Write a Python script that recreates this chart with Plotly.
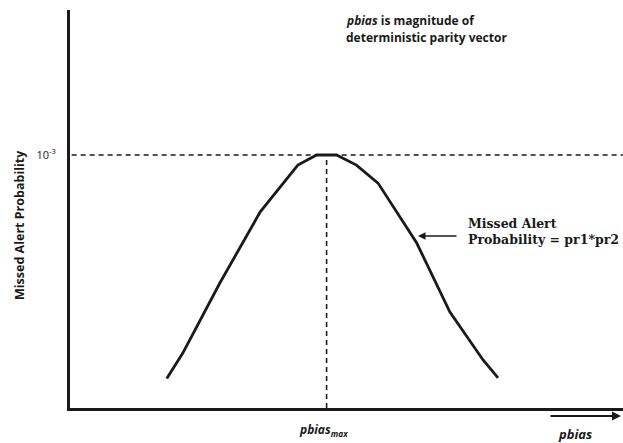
import plotly.graph_objects as go

# Missed alert probability versus pbias (arbitrary pbias units, probability in linear scale)
pbias = [1.75, 2.04, 2.71, 3.44, 4.12, 4.46, 4.82, 5.18, 5.57, 6.27, 6.87, 7.47, 7.74]
p_missed = [0.117e-3, 0.217e-3, 0.494e-3, 0.775e-3, 0.960e-3, 1.0e-3, 1.0e-3,
            0.960e-3, 0.889e-3, 0.652e-3, 0.379e-3, 0.190e-3, 0.119e-3]
pbias_max = 4.64
p_peak = 1.0e-3
y_ticks = [1.0e-3]
y_tick_text = ["10<sup>-3</sup>"]

SANS = "Open Sans"
SERIF = "DejaVu Serif"
BLACK = "#1a1a1a"

W, H = 623, 443
L, R, T, B = 70, 0, 10, 35

fig = go.Figure()

# dashed reference lines at the peak
fig.add_trace(go.Scatter(x=[0.03, 10], y=[p_peak, p_peak], mode="lines",
                         line=dict(color=BLACK, width=1.6, dash="5px,4px"),
                         hoverinfo="skip", showlegend=False))
fig.add_trace(go.Scatter(x=[pbias_max, pbias_max], y=[0, p_peak], mode="lines",
                         line=dict(color=BLACK, width=1.6, dash="5px,4px"),
                         hoverinfo="skip", showlegend=False))

# main curve
fig.add_trace(go.Scatter(x=pbias, y=p_missed, mode="lines",
                         line=dict(color=BLACK, width=2.8),
                         showlegend=False))

fig.update_layout(
    width=W, height=H,
    margin=dict(l=L, r=R, t=T, b=B),
    paper_bgcolor="white", plot_bgcolor="white",
    font=dict(family=SANS, color=BLACK, size=12),
    xaxis=dict(range=[0, 10], showgrid=False, zeroline=False,
               showticklabels=False, ticks="",
               showline=True, linecolor=BLACK, linewidth=2.8),
    yaxis=dict(range=[0, 1.573e-3], showgrid=False, zeroline=False,
               tickvals=y_ticks, ticktext=y_tick_text, ticks="",
               ticklabelstandoff=9,
               tickfont=dict(family=SANS, size=11, color=BLACK),
               showline=True, linecolor=BLACK, linewidth=2.8),
)


def px_to_paper(px, py):
    return (px - L) / (W - L - R), 1 - (py - T) / (H - T - B)


labels = [
    # text, x px, y px, anchor x, family, size
    ("<b><i>pbias</i> is magnitude of</b>", 344, 20, "left", SANS, 12),
    ("<b>deterministic parity vector</b>", 344, 37, "left", SANS, 12),
    ("<b>Missed Alert</b>", 466, 223, "left", SERIF, 12.5),
    ("<b>Probability = pr1*pr2</b>", 466, 239, "left", SERIF, 12.5),
    ("<b><i>pbias<sub>max</sub></i></b>", 323, 430, "center", SANS, 12),
    ("<b><i>pbias</i></b>", 575, 434, "center", SANS, 13),
]
for text, px, py, xa, fam, size in labels:
    x, y = px_to_paper(px, py)
    fig.add_annotation(text=text, xref="paper", yref="paper", x=x, y=y,
                       xanchor=xa, yanchor="middle", showarrow=False,
                       font=dict(family=fam, size=size, color=BLACK))

# y-axis title
x, y = px_to_paper(20, 225)
fig.add_annotation(text="<b>Missed Alert Probability</b>", xref="paper", yref="paper",
                   x=x, y=y, textangle=-90, showarrow=False,
                   xanchor="center", yanchor="middle",
                   font=dict(family=SANS, size=12.5, color=BLACK))

# pointer to the curve
x, y = px_to_paper(418, 236)
fig.add_annotation(xref="paper", yref="paper", x=x, y=y,
                   ax=40, ay=0, text="", showarrow=True,
                   arrowhead=2, arrowsize=1, arrowwidth=1.5, arrowcolor=BLACK)

# direction arrow under the x axis
x, y = px_to_paper(621, 416)
fig.add_annotation(xref="paper", yref="paper", x=x, y=y,
                   ax=-72, ay=0, text="", showarrow=True,
                   arrowhead=2, arrowsize=1, arrowwidth=1.8, arrowcolor=BLACK)

fig.write_html("out.html")
